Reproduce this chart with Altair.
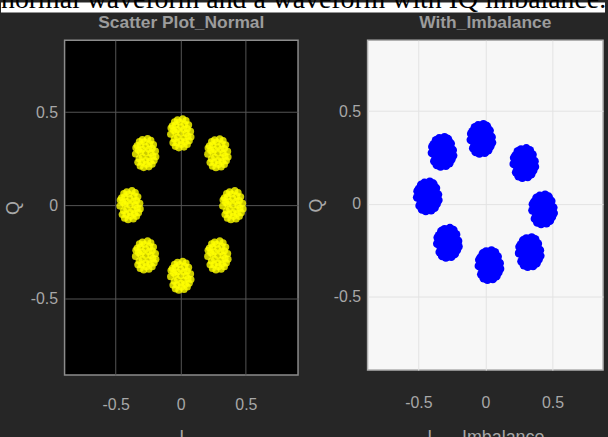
import altair as alt
import pandas as pd

CAPTION = "normal waveform and a waveform with IQ imbalance."
TITLES = ["Scatter Plot_Normal", "With_Imbalance"]

# 8-PSK symbol cluster centres (I, Q)
normal_i = [0.00, 0.285, 0.40, 0.285, 0.00, -0.27, -0.39, -0.27]
normal_q = [0.386, 0.279, 0.00, -0.27, -0.379, -0.27, 0.00, 0.28]
imb_i = [-0.03, 0.29, 0.43, 0.33, 0.03, -0.28, -0.43, -0.32]
imb_q = [0.35, 0.22, -0.03, -0.26, -0.33, -0.21, 0.04, 0.28]

# spread of received samples around each symbol
spread_i = [0.000, 0.025, -0.025, 0.025, -0.025, 0.000, 0.000, 0.040, -0.040,
            0.050, 0.030, -0.010, -0.040, -0.055, -0.050, -0.030, 0.005, 0.035, 0.055,
            0.075, 0.060, 0.015, -0.025, -0.065, -0.078, -0.060, -0.015, 0.025, 0.065,
            0.040, -0.048, -0.042, 0.050, 0.078, -0.075]
spread_q = [0.000, 0.020, 0.020, -0.025, -0.020, 0.035, -0.040, 0.000, 0.005,
            0.025, 0.050, 0.060, 0.045, 0.015, -0.030, -0.050, -0.060, -0.045, -0.015,
            0.010, 0.045, 0.078, 0.072, 0.040, -0.005, -0.050, -0.078, -0.074, -0.040,
            0.068, 0.062, -0.070, -0.060, -0.020, 0.028]

FONT = "Liberation Sans"
BG = "#262626"
TEXT = "#a8a8a8"


def samples(ci, cq):
    rows = []
    for i0, q0 in zip(ci, cq):
        for di, dq in zip(spread_i, spread_q):
            rows.append({"I": i0 + di, "Q": q0 + dq})
    return pd.DataFrame(rows)


def axis(title, grid_color, label_pad, title_pad):
    return alt.Axis(
        values=[-0.5, 0, 0.5], format=".1~f", title=title, grid=True,
        gridColor=grid_color, gridWidth=1, domain=False, ticks=False,
        labelColor=TEXT, labelFont=FONT, labelFontSize=16, labelPadding=label_pad,
        labelExpr="replace(datum.label, '\u2212', '-')",
        titleColor=TEXT, titleFont=FONT, titleFontSize=18,
        titleFontWeight="normal", titlePadding=title_pad,
    )


def panel_title(text, cx):
    return alt.Chart(pd.DataFrame({"t": [text]})).mark_text(
        align="center", baseline="alphabetic", font=FONT, fontSize=17.5,
        fontWeight="bold", color="#9c9c9c"
    ).encode(x=alt.value(cx), y=alt.value(-12), text="t:N")


one = pd.DataFrame({"t": [CAPTION]})

band = alt.Chart(one).mark_rect(color="white").encode(
    x=alt.value(-64), x2=alt.value(544), y=alt.value(-38), y2=alt.value(-28)
)
caption = alt.Chart(one).mark_text(
    align="left", baseline="alphabetic", font="Liberation Serif",
    fontSize=28, color="black"
).encode(x=alt.value(-64), y=alt.value(-32), text="t:N")

normal_pts = alt.Chart(samples(normal_i, normal_q)).mark_circle(
    size=52, color="#ffff00", opacity=0.8
).encode(
    x=alt.X("I:Q", scale=alt.Scale(domain=[-0.893, 0.901], nice=False, zero=False),
            axis=axis("I", "#555555", 22, 16)),
    y=alt.Y("Q:Q", scale=alt.Scale(domain=[-0.912, 0.886], nice=False, zero=False),
            axis=axis("Q", "#555555", 7, 8)),
)

left = alt.layer(band, caption, panel_title(TITLES[0], 117.5), normal_pts).properties(
    width=235, height=337,
    view=alt.ViewBackground(fill="#000000", stroke="#8c8c8c", strokeWidth=1.5),
)

imb_pts = alt.Chart(samples(imb_i, imb_q)).mark_circle(
    size=80, color="#0000ff", opacity=1
).encode(
    x=alt.X("I:Q", scale=alt.Scale(domain=[-0.879, 0.877], nice=False, zero=False),
            axis=axis("I\u00a0\u00a0\u00a0\u00a0\u00a0\u00a0Imbalance", "#e3e3e3", 25, 18)),
    y=alt.Y("Q:Q", scale=alt.Scale(domain=[-0.896, 0.882], nice=False, zero=False),
            axis=axis("Q", "#e3e3e3", 7, 8)),
)

right = alt.layer(panel_title(TITLES[1], 118.5), imb_pts).properties(
    width=237, height=332,
    view=alt.ViewBackground(fill="#f7f7f7", stroke="#b0b0b0", strokeWidth=1.5),
)

chart = alt.hconcat(left, right, spacing=70, bounds="flush").properties(
    padding={"left": 0, "top": -16, "right": 0, "bottom": 0},
    background=BG,
)

chart.save("out.html", embed_options={"renderer": "svg", "actions": False})
